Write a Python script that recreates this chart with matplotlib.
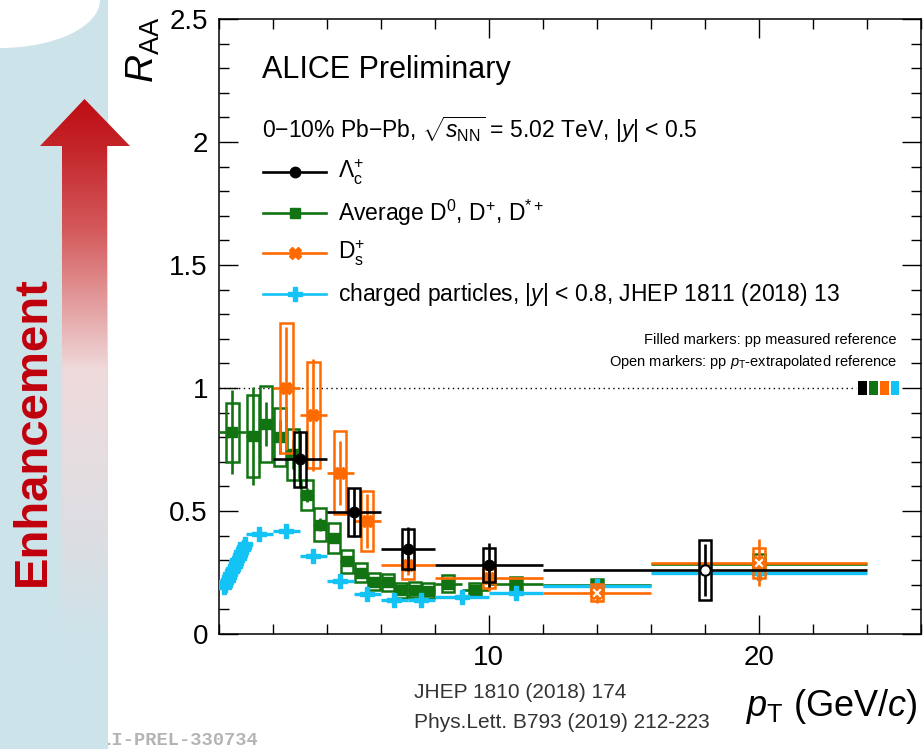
import numpy as np
import matplotlib
matplotlib.use("Agg")
import matplotlib.pyplot as plt
from matplotlib.patches import Rectangle, Polygon, Ellipse
from matplotlib.lines import Line2D
from matplotlib.ticker import FixedLocator, MultipleLocator, FuncFormatter

plt.rcParams["font.family"] = ["Liberation Sans", "DejaVu Sans"]
plt.rcParams["mathtext.fontset"] = "custom"
plt.rcParams["mathtext.rm"] = "Liberation Sans"
plt.rcParams["mathtext.it"] = "Liberation Sans:italic"
plt.rcParams["mathtext.bf"] = "Liberation Sans:bold"

# ---------------- data ----------------
# Lambda_c+ R_AA
lc_pt = [3, 5, 7, 10, 18]
lc_lo = [2, 4, 6, 8, 12]
lc_hi = [4, 6, 8, 12, 24]
lc_raa = [0.71, 0.495, 0.345, 0.28, 0.26]
lc_stat = [0.117, 0.10, 0.09, 0.09, 0.105]
lc_syst = [0.113, 0.097, 0.081, 0.07, 0.122]
lc_open = [False, False, False, False, True]

# average D0, D+, D*+ R_AA
d_pt = [0.5, 1.25, 1.75, 2.25, 2.75, 3.25, 3.75, 4.25, 4.75, 5.25,
        5.75, 6.25, 6.75, 7.25, 7.75, 8.5, 9.5, 11, 14, 20]
d_lo = [0, 1, 1.5, 2, 2.5, 3, 3.5, 4, 4.5, 5,
        5.5, 6, 6.5, 7, 7.5, 8, 9, 10, 12, 16]
d_hi = [1, 1.5, 2, 2.5, 3, 3.5, 4, 4.5, 5, 5.5,
        6, 6.5, 7, 7.5, 8, 9, 10, 12, 16, 24]
d_raa = [0.82, 0.805, 0.855, 0.80, 0.73, 0.565, 0.445, 0.39, 0.295, 0.25,
         0.212, 0.21, 0.178, 0.18, 0.176, 0.205, 0.178, 0.205, 0.20, 0.285]
d_stat = [0.17, 0.20, 0.09, 0.07, 0.06, 0.03, 0.025, 0.02, 0.016, 0.013,
          0.011, 0.01, 0.01, 0.01, 0.01, 0.01, 0.01, 0.011, 0.014, 0.03]
d_syst = [0.12, 0.165, 0.155, 0.117, 0.105, 0.062, 0.068, 0.061, 0.048, 0.038,
          0.035, 0.035, 0.03, 0.03, 0.03, 0.036, 0.028, 0.026, 0.022, 0.04]
d_open = [False] * 20

# D_s+ R_AA
ds_pt = [2.5, 3.5, 4.5, 5.5, 7, 10, 14, 20]
ds_lo = [2, 3, 4, 5, 6, 8, 12, 16]
ds_hi = [3, 4, 5, 6, 8, 12, 16, 24]
ds_raa = [1.0, 0.89, 0.655, 0.46, 0.28, 0.226, 0.168, 0.29]
ds_stat = [0.25, 0.226, 0.13, 0.11, 0.04, 0.05, 0.04, 0.095]
ds_syst = [0.265, 0.217, 0.169, 0.122, 0.055, 0.037, 0.035, 0.061]
ds_open = [False, False, False, False, False, False, True, True]

# charged particles R_AA (bin edges and values)
ch_lo = [0.15, 0.20, 0.25, 0.30, 0.35, 0.40, 0.45, 0.50, 0.55, 0.60,
         0.65, 0.70, 0.75, 0.80, 0.85, 0.90, 0.95,
         1, 2, 3, 4, 5, 6, 7, 8, 10, 12, 16]
ch_hi = [0.20, 0.25, 0.30, 0.35, 0.40, 0.45, 0.50, 0.55, 0.60, 0.65,
         0.70, 0.75, 0.80, 0.85, 0.90, 0.95, 1.00,
         2, 3, 4, 5, 6, 7, 8, 10, 12, 16, 24]
ch_raa = [0.19, 0.20, 0.21, 0.22, 0.23, 0.245, 0.255, 0.265, 0.275, 0.29,
          0.30, 0.31, 0.32, 0.335, 0.345, 0.355, 0.365,
          0.405, 0.42, 0.317, 0.215, 0.162, 0.14, 0.138, 0.149, 0.168, 0.195, 0.25]
ch_stat = [0.012] * 17 + [0.01] * 11

# normalisation uncertainties drawn at R_AA = 1
norm_unc = [0.03, 0.03, 0.03, 0.03]

C_BLACK = "#000000"
C_GREEN = "#117311"
C_ORANGE = "#FF6A00"
C_CYAN = "#14C3F5"

W, H = 924, 749
fig = plt.figure(figsize=(W / 100, H / 100), dpi=100)


def fx(px):
    return px / W


def fy(py):
    return 1 - py / H


# ---------------- decorative side panel ----------------
deco = fig.add_axes([0, 0, 1, 1], zorder=-1)
deco.set_xlim(0, W)
deco.set_ylim(H, 0)
deco.axis("off")

deco.text(258, 745, "ALI-PREL-330734", ha="right", va="baseline",
          family="Liberation Mono", weight="bold", fontsize=13.5,
          color="#B4B4B4", zorder=1)
deco.add_patch(Rectangle((0, 0), 108, H, color="#CDE3EA", lw=0, zorder=2))
deco.add_patch(Ellipse((0, 0), 200, 96, color="white", lw=0, zorder=3))

arrow = Polygon([(62, 660), (62, 146), (40, 146), (84.5, 99), (130, 146),
                 (107, 146), (107, 660)], closed=True, fc="none", ec="none")
deco.add_patch(arrow)
stops_y = [99, 150, 230, 300, 370, 450, 540, 640]
stops_c = ["#BD0D14", "#C4262B", "#D45A5C", "#E39A9B", "#EFDADB",
           "#E6DDE0", "#DCDEE2", "#CDE3EA"]
rgb = np.array([matplotlib.colors.to_rgb(c) for c in stops_c])
yy = np.linspace(95, 660, 400)
grad = np.stack([np.interp(yy, stops_y, rgb[:, k]) for k in range(3)], axis=-1)
im = deco.imshow(grad[:, None, :], extent=(35, 135, 660, 95), aspect="auto",
                 interpolation="bilinear", zorder=4)
im.set_clip_path(arrow)

deco.text(32.5, 431, "Enhancement", rotation=90, ha="center", va="center",
          color="#C0000C", fontsize=34, weight="bold", zorder=5)

# ---------------- main axes ----------------
ax = fig.add_axes([fx(219), fy(634), (920.5 - 219) / W, (634 - 19) / H])
ax.set_xlim(0, 26)
ax.set_ylim(0, 2.5)

BOX_W = 0.45


def draw_series(pt, lo, hi, raa, stat, syst, is_open, color, marker, ms, z, elw=1.9):
    pt = np.asarray(pt, float)
    lo = np.asarray(lo, float)
    hi = np.asarray(hi, float)
    raa = np.asarray(raa, float)
    is_open = np.asarray(is_open, bool)
    if syst is not None:
        for x, y, s in zip(pt, raa, syst):
            ax.add_patch(Rectangle((x - BOX_W / 2, y - s), BOX_W, 2 * s,
                                   fill=False, ec=color, lw=1.8, zorder=z))
    ax.errorbar(pt, raa, xerr=[pt - lo, hi - pt], yerr=stat, fmt="none",
                ecolor=color, elinewidth=elw, capsize=0, zorder=z + 0.1)
    ax.plot(pt[~is_open], raa[~is_open], ls="none", marker=marker, ms=ms,
            mfc=color, mec=color, zorder=z + 0.2)
    if is_open.any():
        ax.plot(pt[is_open], raa[is_open], ls="none", marker=marker, ms=ms,
                mfc="white", mec=color, mew=1.5, zorder=z + 0.3)


draw_series(d_pt, d_lo, d_hi, d_raa, d_stat, d_syst, d_open, C_GREEN, "s", 7, 3)
ch_lo_a = np.asarray(ch_lo)
ch_hi_a = np.asarray(ch_hi)
draw_series((ch_lo_a + ch_hi_a) / 2, ch_lo, ch_hi, ch_raa, ch_stat, None,
            [False] * len(ch_raa), C_CYAN, "P", 10, 4, elw=2.4)
draw_series(ds_pt, ds_lo, ds_hi, ds_raa, ds_stat, ds_syst, ds_open, C_ORANGE, "X", 9, 5)
draw_series(lc_pt, lc_lo, lc_hi, lc_raa, lc_stat, lc_syst, lc_open, C_BLACK, "o", 7.5, 6)

# unity reference line and normalisation boxes
ax.hlines(1, 0, 23.62, colors="k", linestyles=(0, (1, 2.5)), lw=1.0, zorder=2)
for i, (u, c) in enumerate(zip(norm_unc, [C_BLACK, C_GREEN, C_ORANGE, C_CYAN])):
    ax.add_patch(Rectangle((23.7 + 0.4 * i, 1 - u), 0.32, 2 * u, fc=c, ec="none", zorder=7))

# axes styling
for sp in ax.spines.values():
    sp.set_linewidth(1.1)
ax.xaxis.set_major_locator(FixedLocator([10, 20]))
ax.xaxis.set_minor_locator(MultipleLocator(2))
ax.yaxis.set_major_locator(MultipleLocator(0.5))
ax.yaxis.set_minor_locator(MultipleLocator(0.1))
ax.yaxis.set_major_formatter(FuncFormatter(lambda v, p: f"{v:g}"))
ax.tick_params(which="both", direction="in", top=True, right=True, width=1.0)
ax.tick_params(which="major", length=14, labelsize=20, pad=8)
ax.tick_params(which="minor", length=7)

# axis titles
fig.text(fx(143), fy(17), r"$R_{\rm AA}$", rotation=90, ha="center", va="top", fontsize=28)
fig.text(fx(918), fy(706), r"$p_{\rm T}$ (GeV/$c$)", ha="right", va="center", fontsize=26)

# header texts
fig.text(fx(262), fy(70), "ALICE Preliminary", ha="left", va="center", fontsize=22)
fig.text(fx(262), fy(130),
         r"0$-$10% Pb$-$Pb, $\sqrt{s_{\rm NN}}$ = 5.02 TeV, |$y$| < 0.5",
         ha="left", va="center", fontsize=16.5)

# legend
leg_rows = [
    (172, C_BLACK, "o", 7.5, r"$\Lambda_{\rm c}^{+}$"),
    (213, C_GREEN, "s", 7, r"Average D$^{0}$, D$^{+}$, D$^{*+}$"),
    (253, C_ORANGE, "X", 9, r"D$_{\rm s}^{+}$"),
    (294, C_CYAN, "P", 10, r"charged particles, |$y$| < 0.8, JHEP 1811 (2018) 13"),
]
for yrow, col, mk, ms, lab in leg_rows:
    fig.add_artist(Line2D([fx(263), fx(326)], [fy(yrow), fy(yrow)], color=col,
                          lw=1.9, transform=fig.transFigure))
    fig.add_artist(Line2D([fx(294.5)], [fy(yrow)], color=col, marker=mk, ms=ms,
                          ls="none", transform=fig.transFigure))
    fig.text(fx(338), fy(yrow), lab, ha="left", va="center", fontsize=16.5)

fig.text(fx(897), fy(340), "Filled markers: pp measured reference",
         ha="right", va="center", fontsize=10.5)
fig.text(fx(897), fy(362), r"Open markers: pp $p_{\rm T}$-extrapolated reference",
         ha="right", va="center", fontsize=10.5)

# references
fig.text(fx(414), fy(692), "JHEP 1810 (2018) 174", ha="left", va="center",
         fontsize=15, color="#333333")
fig.text(fx(414), fy(722), "Phys.Lett. B793 (2019) 212-223", ha="left", va="center",
         fontsize=15, color="#333333")

fig.savefig("out.png", dpi=100)
